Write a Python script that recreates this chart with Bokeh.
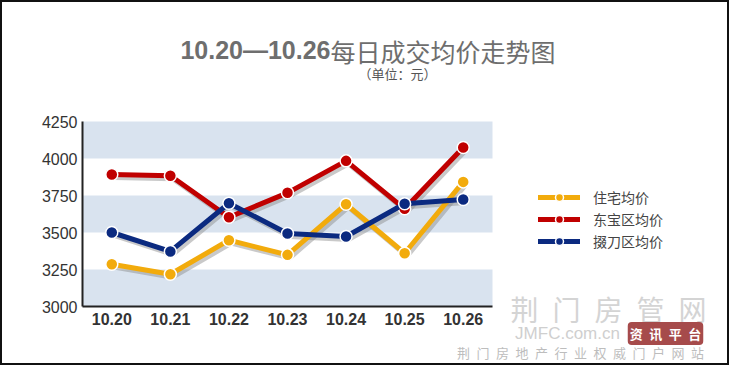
from bokeh.plotting import figure
from bokeh.models import (ColumnDataSource, Label, Legend, LegendItem, FixedTicker,
                          Range1d, BoxAnnotation)
from bokeh.transform import dodge
from bokeh.embed import file_html
from bokeh.resources import INLINE

dates = ["10.20", "10.21", "10.22", "10.23", "10.24", "10.25", "10.26"]
zhuzhai = [3286, 3218, 3448, 3349, 3691, 3360, 3842]
dongbao = [3892, 3883, 3603, 3768, 3984, 3660, 4074]
duodao = [3500, 3372, 3698, 3493, 3473, 3694, 3723]
series_names = ["住宅均价", "东宝区均价", "掇刀区均价"]
y_ticks = [3000, 3250, 3500, 3750, 4000, 4250]

colors = ["#F2AB0C", "#C00000", "#0B2A80"]
CJK = "Noto Sans CJK SC"
SP = "\u2002"  # en space, not collapsed in SVG text

# canvas / chart-area geometry (pixels)
W, H = 729, 365
AL, AR, AT, AB = 80, 490, 119, 304
n = len(dates)
xpx = (AR - AL) / n
x0 = -0.5 - AL / xpx
ylo, yhi = y_ticks[0], y_ticks[-1]
ypx = (AB - AT) / (yhi - ylo)
y1 = yhi + AT / ypx
y0 = y1 - H / ypx

xs = list(range(n))
src = ColumnDataSource(dict(x=xs, a=zhuzhai, b=dongbao, c=duodao))

p = figure(x_range=Range1d(x0, x0 + W / xpx), y_range=Range1d(y0, y1),
           width=W, height=H, output_backend="svg", toolbar_location=None,
           min_border=0)
p.styles = {"border": "2px solid #111"}
p.outline_line_color = None
p.background_fill_color = "white"
p.xgrid.visible = False
p.ygrid.visible = False

for i in range(0, len(y_ticks) - 1, 2):
    p.add_layout(BoxAnnotation(bottom=y_ticks[i], top=y_ticks[i + 1],
                               left=-0.5, right=n - 0.5, fill_color="#D9E3EF",
                               fill_alpha=1.0, line_color=None, level="underlay"))

p.xaxis.ticker = FixedTicker(ticks=xs)
p.xaxis.major_label_overrides = {i: d for i, d in enumerate(dates)}
p.yaxis.ticker = FixedTicker(ticks=y_ticks)
p.xaxis.fixed_location = ylo
p.yaxis.fixed_location = -0.5
p.xaxis.bounds = (-0.5, n - 0.5)
p.yaxis.bounds = (ylo, yhi)

for ax in (p.xaxis[0], p.yaxis[0]):
    ax.axis_line_width = 2
    ax.axis_line_color = "#222222"
    ax.major_tick_line_color = None
    ax.minor_tick_line_color = None
    ax.major_tick_out = 0
    ax.major_tick_in = 0
    ax.minor_tick_out = 0
    ax.major_label_text_color = "#333333"
    ax.major_label_text_font = "Liberation Sans"
    ax.major_label_text_font_size = "16px"
p.xaxis.major_label_text_font_style = "bold"
p.xaxis.major_label_standoff = 6
p.yaxis.major_label_standoff = 5

cols = ["a", "b", "c"]
for col in cols:
    p.line(x=dodge("x", 0.04), y=dodge(col, -20), source=src,
           line_color="#888888", line_alpha=0.45, line_width=5, line_join="round")

items = []
for col, color, name in zip(cols, colors, series_names):
    l = p.line(x="x", y=col, source=src, line_color=color, line_width=5,
               line_join="round", line_cap="round")
    c = p.scatter(x="x", y=col, source=src, size=12, fill_color=color,
                  line_color="white", line_width=1.5)
    items.append(LegendItem(label=name, renderers=[l, c]))

legend = Legend(items=items, location=(536, 116), orientation="vertical",
                glyph_width=42, glyph_height=20, label_height=20, spacing=2,
                padding=0, margin=0, label_standoff=13,
                label_text_font=CJK, label_text_font_size="14px",
                label_text_color="#444444",
                background_fill_alpha=0, border_line_color=None)
p.add_layout(legend)

def lab(x, y, text, font, size, color, align="center", baseline="middle",
        style="normal", **kw):
    p.add_layout(Label(x=x, y=y, x_units="screen", y_units="screen", text=text,
                       text_font=font, text_font_size=size, text_color=color,
                       text_align=align, text_baseline=baseline,
                       text_font_style=style, **kw))

lab(328, 318, "10.20—10.26", "Liberation Sans", "25px", "#6E6E6E",
    align="right", baseline="alphabetic", style="bold")
lab(328, 317, "每日成交均价走势图", CJK, "25px", "#6E6E6E",
    align="left", baseline="alphabetic")
lab(395, 294, "（单位：元）", CJK, "13px", "#555555")

# site watermark
lab(606, 59, SP.join("荆门房管网"), CJK, "28px", "#D4D4D4")
lab(565, 34, "JMFC.com.cn", "Liberation Sans", "17px", "#CFCFCF")
lab(663, 34, SP.join("资讯平台"), CJK, "13px", "white", style="bold",
    background_fill_color="#A64B4B", background_fill_alpha=1.0,
    border_radius=4, padding=2)
lab(578, 15, SP.join("荆门房地产行业权威门户网站"), CJK, "13px", "#BDBDBD")

open("out.html", "w").write(file_html(p, INLINE))
